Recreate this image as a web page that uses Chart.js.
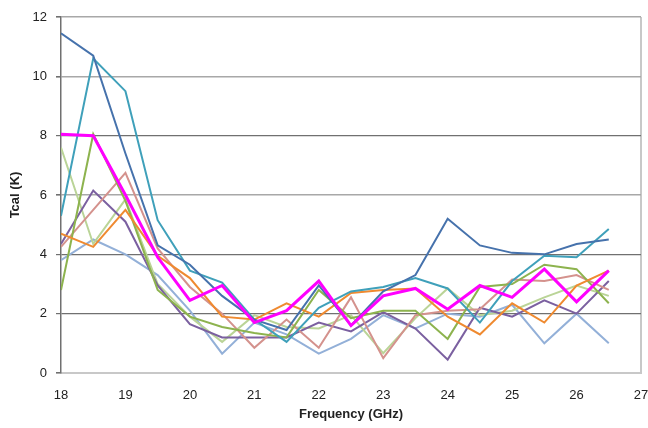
<!DOCTYPE html>
<html>
<head>
<meta charset="utf-8">
<script src="https://cdn.jsdelivr.net/npm/chart.js@4"></script>
<style>
html,body{margin:0;padding:0;background:#fff;}
#wrap{width:648px;height:428px;position:relative;}
</style>
</head>
<body>
<div id="wrap"><canvas id="c" width="648" height="428"></canvas></div>
<script>
const freq = [18,18.5,19,19.5,20,20.5,21,21.5,22,22.5,23,23.5,24,24.5,25,25.5,26,26.5];
const yTicks = [0,2,4,6,8,10,12];
const xTicks = [18,19,20,21,22,23,24,25,26,27];

const magenta   = [8.05,8.0,6.0,3.9,2.45,2.95,1.7,2.1,3.1,1.6,2.6,2.85,2.15,2.95,2.55,3.5,2.4,3.45];
const darkBlue  = [11.45,10.7,7.4,4.3,3.65,2.6,1.8,1.45,2.95,1.6,2.75,3.3,5.2,4.3,4.05,4.0,4.35,4.5];
const teal      = [5.3,10.6,9.5,5.15,3.45,3.05,1.8,1.05,2.2,2.75,2.9,3.2,2.85,1.7,3.1,3.95,3.9,4.85];
const green     = [2.8,8.05,5.8,2.8,1.9,1.55,1.35,1.2,2.8,1.85,2.1,2.1,1.15,2.9,3.0,3.65,3.5,2.35];
const lightGreen= [7.6,4.35,5.85,3.0,1.9,1.05,1.95,1.55,1.5,1.95,0.67,1.85,2.85,1.95,2.1,2.55,2.95,2.6];
const purple    = [4.35,6.15,5.1,2.95,1.65,1.2,1.2,1.2,1.7,1.4,2.05,1.5,0.45,2.2,1.9,2.45,2.0,3.1];
const pink      = [4.25,5.5,6.75,4.2,2.9,2.0,0.85,1.8,0.85,2.55,0.5,1.95,2.1,2.15,3.15,3.1,3.3,2.8];
const orange    = [4.7,4.25,5.5,3.95,3.2,1.9,1.8,2.35,1.9,2.7,2.8,2.85,1.9,1.3,2.35,1.7,2.95,3.45];
const lightBlue = [3.8,4.5,4.0,3.3,2.1,0.65,1.7,1.3,0.65,1.15,1.95,1.5,2.0,1.9,2.3,1.0,2.0,1.0];

function pts(arr){ return arr.map((v,i)=>({x:freq[i], y:v})); }
function ds(data,color,w){
  return {data:pts(data),borderColor:color,backgroundColor:color,borderWidth:w||2,pointRadius:0,tension:0,fill:false};
}

const datasets = [
  ds(magenta,'#ff00ff',3),
  ds(darkBlue,'#4672ac'),
  ds(teal,'#3fa0ba'),
  ds(orange,'#ef8a30'),
  ds(green,'#8db34e'),
  ds(pink,'#d4928d'),
  ds(purple,'#7b60a0'),
  ds(lightGreen,'#bad497'),
  ds(lightBlue,'#93b0d8')
];

Chart.defaults.font.family = '"Liberation Sans", Arial, sans-serif';
Chart.defaults.color = '#222';

new Chart(document.getElementById('c'), {
  type:'line',
  data:{datasets},
  options:{
    responsive:false,
    animation:false,
    events:[],
    layout:{padding:{top:17,right:7,left:0,bottom:0}},
    plugins:{legend:{display:false},tooltip:{enabled:false}},
    scales:{
      x:{
        type:'linear',min:18,max:27,
        afterBuildTicks:(s)=>{s.ticks = xTicks.map(v=>({value:v}));},
        afterFit:(s)=>{s.height=55; s.paddingRight=0; s.paddingLeft=0;},
        ticks:{font:{size:13},color:'#222',padding:15,maxRotation:0},
        grid:{
          drawTicks:false,
          color:(ctx)=> (ctx.tick && ctx.tick.value===27) ? '#c8c8c8' : 'rgba(0,0,0,0)',
          lineWidth:2
        },
        border:{display:true,color:'#c8c8c8',width:2},
        title:{display:true,text:'Frequency (GHz)',font:{size:13,weight:'bold'},color:'#222',padding:{top:2,bottom:6}}
      },
      y:{
        min:0,max:12,
        afterBuildTicks:(s)=>{s.ticks = yTicks.map(v=>({value:v}));},
        afterFit:(s)=>{s.width=61;},
        ticks:{font:{size:13},color:'#222',padding:9},
        grid:{
          tickLength:5,
          color:(ctx)=>{
            const v = ctx.tick ? ctx.tick.value : null;
            if(v===0) return 'rgba(0,0,0,0)';
            if(v===2||v===4||v===8) return '#707070';
            return '#a8a8a8';
          },
          tickColor:'#707070',
          lineWidth:(ctx)=>{
            const v = ctx.tick ? ctx.tick.value : null;
            return (v===2||v===4||v===8) ? 1.2 : 1.6;
          }
        },
        border:{display:true,color:'#707070',width:1.5},
        title:{display:true,text:'Tcal (K)',font:{size:13,weight:'bold'},color:'#222',padding:{top:8,bottom:0}}
      }
    }
  }
});
</script>
</body>
</html>
